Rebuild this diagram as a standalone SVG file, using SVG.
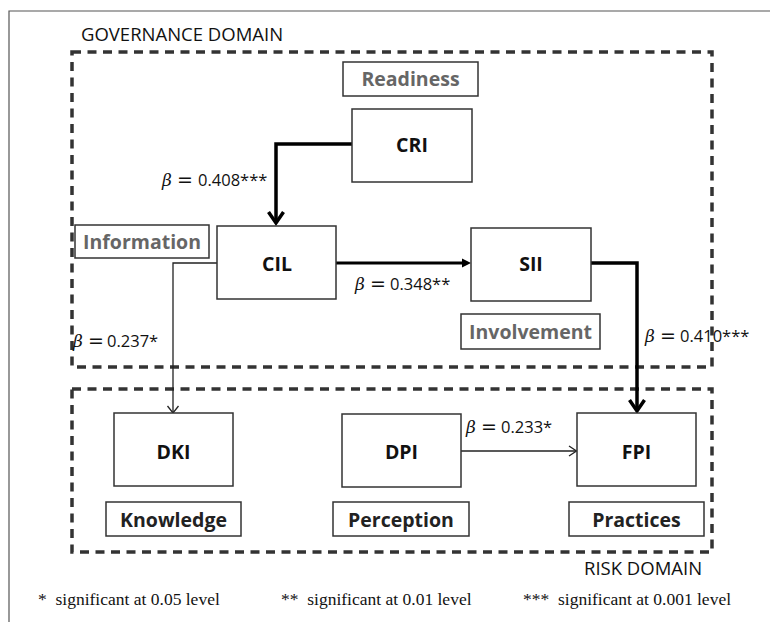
<svg xmlns="http://www.w3.org/2000/svg" width="770" height="622" viewBox="0 0 770 622">
<style>
.frame{stroke:#555;stroke-width:1.2;fill:none}
.domain{fill:none;stroke:#333;stroke-width:3.5;stroke-dasharray:9 6.5}
.box{fill:#fff;stroke:#333;stroke-width:1.5}
.node{font-family:"Open Sans",sans-serif;font-weight:bold;font-size:19.5px;fill:#111;text-anchor:middle}
.cat{font-family:"Open Sans",sans-serif;font-weight:bold;font-size:19.5px;fill:#666;text-anchor:middle}
.dom{font-family:"Open Sans",sans-serif;font-size:18.5px;fill:#111}
.beta{font-family:"Open Sans",sans-serif;font-size:16.5px;fill:#111}
.bsym{font-family:"DejaVu Serif",serif;font-style:italic;font-size:17px}
.eq{font-family:"DejaVu Sans",sans-serif;font-size:19px}
.note{font-family:"Liberation Serif",serif;font-size:17.5px;fill:#111;white-space:pre}
.thick{fill:none;stroke:#000;stroke-width:3.5}
.med{fill:none;stroke:#000;stroke-width:3}
.thin{fill:none;stroke:#222;stroke-width:1.3}
</style>
<rect width="770" height="622" fill="#fff"/>
<path class="frame" d="M9,622 V11 H770"/>
<g id="governance-domain">
<rect class="domain" x="72" y="52" width="640" height="315"/>
<text class="dom" x="81" y="41">GOVERNANCE DOMAIN</text>
</g>
<g id="risk-domain">
<rect class="domain" x="72" y="389" width="640" height="163"/>
<text class="dom" x="584" y="575">RISK DOMAIN</text>
</g>
<g id="connectors">
<path class="thick" d="M352,144 H276 V222"/>
<path class="thick" d="M268.5,212 L276,223 L283.5,212"/>
<path class="med" d="M336,263 H464"/>
<path d="M462,258.5 L471,263 L462,267.5 Z" fill="#000"/>
<path class="thick" d="M591,263 H637 V410"/>
<path class="thick" d="M629.5,400 L637,411 L644.5,400"/>
<path class="thin" d="M217,263 H173 V412"/>
<path class="thin" d="M167.5,406 L173,413 L178.5,406"/>
<path class="thin" d="M461,451 H576"/>
<path class="thin" d="M569,446 L576.5,451 L569,456"/>
<text class="beta" y="186"><tspan class="bsym" x="162">β</tspan><tspan class="eq" x="177">=</tspan><tspan x="198">0.408***</tspan></text>
<text class="beta" y="290"><tspan class="bsym" x="355">β</tspan><tspan class="eq" x="370">=</tspan><tspan x="390">0.348**</tspan></text>
<text class="beta" y="347"><tspan class="bsym" x="73">β</tspan><tspan class="eq" x="88">=</tspan><tspan x="107">0.237*</tspan></text>
<text class="beta" y="342"><tspan class="bsym" x="645">β</tspan><tspan class="eq" x="660">=</tspan><tspan x="680">0.410***</tspan></text>
<text class="beta" y="433"><tspan class="bsym" x="466">β</tspan><tspan class="eq" x="481">=</tspan><tspan x="501">0.233*</tspan></text>
</g>
<g id="readiness"><rect class="box" x="343" y="62" width="135" height="34"/><text class="cat" x="410.5" y="86">Readiness</text></g>
<g id="CRI"><rect class="box" x="352" y="109" width="120" height="73"/><text class="node" x="412" y="152">CRI</text></g>
<g id="information"><rect class="box" x="75" y="225" width="134" height="33"/><text class="cat" x="142" y="248.5">Information</text></g>
<g id="CIL"><rect class="box" x="217" y="226" width="119" height="73"/><text class="node" x="277" y="271">CIL</text></g>
<g id="SII"><rect class="box" x="471" y="228" width="120" height="73"/><text class="node" x="531" y="271">SII</text></g>
<g id="involvement"><rect class="box" x="461" y="314" width="139" height="35"/><text class="cat" x="530.5" y="338.5">Involvement</text></g>
<g id="DKI"><rect class="box" x="114" y="413" width="119" height="73"/><text class="node" x="173.5" y="459">DKI</text></g>
<g id="knowledge"><rect class="box" x="106" y="502" width="135" height="34"/><text class="cat" x="173.5" y="526.5" style="fill:#222">Knowledge</text></g>
<g id="DPI"><rect class="box" x="342" y="414" width="119" height="73"/><text class="node" x="401.5" y="459">DPI</text></g>
<g id="perception"><rect class="box" x="333" y="502" width="136" height="34"/><text class="cat" x="401" y="526.5" style="fill:#222">Perception</text></g>
<g id="FPI"><rect class="box" x="577" y="413" width="119" height="73"/><text class="node" x="636.5" y="459">FPI</text></g>
<g id="practices"><rect class="box" x="569" y="502" width="135" height="34"/><text class="cat" x="636.5" y="526.5" style="fill:#222">Practices</text></g>
<g id="notes">
<text class="note" x="38" y="605">*  significant at 0.05 level</text>
<text class="note" x="281" y="605">**  significant at 0.01 level</text>
<text class="note" x="523" y="605">***  significant at 0.001 level</text>
</g>
</svg>
